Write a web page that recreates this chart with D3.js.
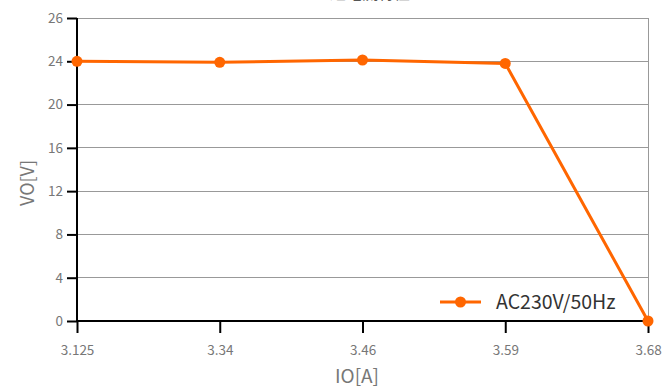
<!DOCTYPE html>
<html><head><meta charset="utf-8">
<script src="https://cdn.jsdelivr.net/npm/d3@7"></script>
<style>
html,body{margin:0;padding:0;background:#fff;}
text{font-family:"Noto Sans CJK JP","Noto Sans",sans-serif;}
</style></head>
<body><svg id="c" width="665" height="389"></svg>
<script>
const title = "過電流特性";
const categories = ["3.125", "3.34", "3.46", "3.59", "3.68"];
const seriesName = "AC230V/50Hz";
const values = [24, 23.9, 24.06, 23.8, 0];
const yTicks = [0, 4, 8, 12, 16, 20, 24, 26];
const xTitle = "IO[A]";
const yTitle = "VO[V]";

const svg = d3.select("#c");
const L = 77, R = 648, T = 18, B = 321;
const color = "#ff6600";

const x = d3.scalePoint().domain(categories).range([L, R]);
const y = d3.scaleLinear().domain(yTicks)
  .range(yTicks.map((d, i) => B - i * (B - T) / (yTicks.length - 1)));

// gridlines
svg.append("g").selectAll("line").data(yTicks.filter(d => d !== 0)).join("line")
  .attr("x1", L).attr("x2", R).attr("y1", d => y(d)).attr("y2", d => y(d))
  .attr("stroke", "#999").attr("stroke-width", 1).attr("shape-rendering", "crispEdges");
svg.append("line").attr("x1", R).attr("x2", R).attr("y1", T).attr("y2", B)
  .attr("stroke", "#999").attr("shape-rendering", "crispEdges");

// axes
const yAxis = svg.append("g").attr("transform", `translate(${L},0)`)
  .call(d3.axisLeft(y).tickValues(yTicks).tickSize(10).tickPadding(4).tickFormat(d3.format("d")));
const xAxis = svg.append("g").attr("transform", `translate(0,${B})`)
  .call(d3.axisBottom(x).tickSize(12).tickPadding(12));
[yAxis, xAxis].forEach(a => {
  a.select(".domain").attr("stroke", "#000").attr("stroke-width", 2);
  a.selectAll(".tick line").attr("stroke", "#000").attr("stroke-width", 2);
  a.selectAll(".tick text").attr("fill", "#777").attr("font-size", 13.5)
    .style("font-family", '"Noto Sans CJK JP","Noto Sans",sans-serif');
});
yAxis.select(".domain").attr("d", `M0,${B}V${T}`);
xAxis.select(".domain").attr("d", `M${L},0H${R}`);

// line + points
const data = categories.map((c, i) => ({c, v: values[i]}));
svg.append("path").datum(data)
  .attr("fill", "none").attr("stroke", color).attr("stroke-width", 3)
  .attr("d", d3.line().x(d => x(d.c)).y(d => y(d.v)));
svg.append("g").selectAll("circle").data(data).join("circle")
  .attr("cx", d => x(d.c)).attr("cy", d => y(d.v)).attr("r", 5.5).attr("fill", color);

// titles
svg.append("text").attr("x", 370).attr("y", -1).attr("text-anchor", "middle")
  .attr("font-size", 16).attr("fill", "#555").text(title);
svg.append("text").attr("x", 357).attr("y", 383).attr("text-anchor", "middle")
  .attr("font-size", 19).attr("fill", "#777").text(xTitle);
svg.append("text").attr("transform", "translate(34,183) rotate(-90)").attr("text-anchor", "middle")
  .attr("font-size", 18).attr("fill", "#777").text(yTitle);

// legend
const lg = svg.append("g").attr("transform", "translate(440,302)");
lg.append("line").attr("x1", 0).attr("x2", 41).attr("stroke", color).attr("stroke-width", 3);
lg.append("circle").attr("cx", 20.5).attr("r", 5.5).attr("fill", color);
lg.append("text").attr("x", 56).attr("y", 7).attr("font-size", 19.5).attr("fill", "#333").text(seriesName);
</script></body></html>
